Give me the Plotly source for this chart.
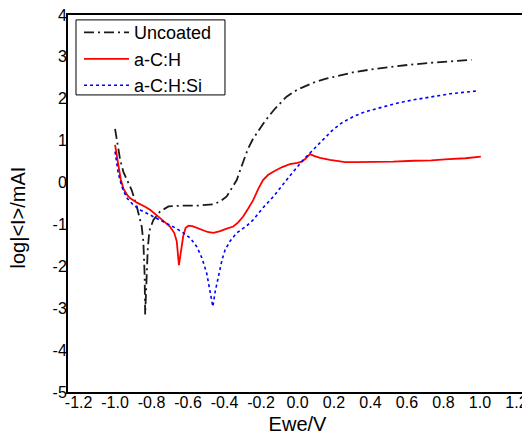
"""Polarization curves: log|I| versus potential for coated and uncoated samples."""

import plotly.graph_objects as go

uncoated_x = [-1.0, -0.985, -0.972, -0.954, -0.936, -0.909, -0.881, -0.854, -0.845, -0.838, -0.835,
              -0.828, -0.821, -0.812, -0.790, -0.753, -0.707, -0.629, -0.545, -0.461, -0.424, -0.388,
              -0.362, -0.333, -0.304, -0.272, -0.243, -0.210, -0.178, -0.126, -0.060, 0.0, 0.052, 0.096,
              0.157, 0.210, 0.314, 0.419, 0.524, 0.608, 0.734, 0.838, 0.954]
uncoated_y = [1.28, 0.85, 0.54, 0.25, 0.06, -0.18, -0.57, -1.05, -1.4, -2.2, -3.15,
              -2.3, -1.6, -1.15, -0.89, -0.69, -0.57, -0.55, -0.55, -0.52, -0.45, -0.33,
              -0.15, 0.06, 0.42, 0.8, 1.05, 1.28, 1.47, 1.75, 2.05, 2.22, 2.32, 2.40,
              2.48, 2.54, 2.64, 2.71, 2.77, 2.81, 2.86, 2.89, 2.93]

ach_x = [-1.0, -0.990, -0.980, -0.969, -0.954, -0.933, -0.918, -0.880, -0.838, -0.808, -0.753,
         -0.699, -0.676, -0.662, -0.650, -0.639, -0.626, -0.613, -0.597, -0.576, -0.534, -0.493,
         -0.461, -0.424, -0.388, -0.352, -0.325, -0.298, -0.270, -0.243, -0.215, -0.189, -0.162,
         -0.133, -0.084, -0.042, 0.0, 0.023, 0.042, 0.058, 0.068, 0.094, 0.124, 0.178, 0.262, 0.314,
         0.419, 0.524, 0.639, 0.734, 0.828, 0.922, 1.005]
ach_y = [0.90, 0.6, 0.3, 0.08, -0.15, -0.3, -0.37, -0.48, -0.57, -0.65, -0.85,
         -1.05, -1.2, -1.4, -1.97, -1.6, -1.27, -1.08, -1.03, -1.04, -1.12, -1.18,
         -1.20, -1.16, -1.1, -1.05, -0.95, -0.81, -0.62, -0.42, -0.15, 0.06, 0.18,
         0.26, 0.37, 0.44, 0.47, 0.50, 0.56, 0.64, 0.68, 0.63, 0.59, 0.54, 0.49, 0.49,
         0.49, 0.50, 0.52, 0.53, 0.56, 0.58, 0.62]

achsi_x = [-1.0, -0.990, -0.983, -0.969, -0.956, -0.933, -0.901, -0.859, -0.808, -0.755, -0.717,
           -0.671, -0.626, -0.587, -0.552, -0.524, -0.498, -0.477, -0.464, -0.451, -0.435, -0.414,
           -0.397, -0.370, -0.333, -0.283, -0.243, -0.189, -0.133, -0.063, -0.042, 0.031, 0.084,
           0.133, 0.189, 0.241, 0.304, 0.370, 0.461, 0.551, 0.629, 0.734, 0.838, 0.990]
achsi_y = [0.74, 0.45, 0.23, 0.0, -0.18, -0.38, -0.53, -0.66, -0.77, -0.88, -0.97,
           -1.08, -1.20, -1.33, -1.53, -1.8, -2.16, -2.6, -2.96, -2.6, -2.25, -1.85,
           -1.61, -1.4, -1.2, -1.05, -0.89, -0.6, -0.34, 0.06, 0.16, 0.54, 0.78,
           1.0, 1.24, 1.42, 1.57, 1.69, 1.80, 1.90, 1.97, 2.05, 2.12, 2.19]

x_ticks = [-1.2, -1.0, -0.8, -0.6, -0.4, -0.2, 0.0, 0.2, 0.4, 0.6, 0.8, 1.0, 1.2]
x_ticktext = ["-1.2", "-1.0", "-0.8", "-0.6", "-0.4", "-0.2", "0.0", "0.2", "0.4", "0.6", "0.8", "1.0", "1.2"]
y_ticks = [-5, -4, -3, -2, -1, 0, 1, 2, 3, 4]
y_ticktext = ["-5", "-4", "-3", "-2", "-1", "0", "1", "2", "3", "4"]

FONT = "Arial, Liberation Sans, sans-serif"

fig = go.Figure()
fig.add_trace(go.Scatter(x=uncoated_x, y=uncoated_y, mode="lines", name="Uncoated",
                         line=dict(color="#1a1a1a", width=1.8, dash="10px,4px,2px,4px")))
fig.add_trace(go.Scatter(x=ach_x, y=ach_y, mode="lines", name="a-C:H",
                         line=dict(color="#ff0000", width=1.8)))
fig.add_trace(go.Scatter(x=achsi_x, y=achsi_y, mode="lines", name="a-C:H:Si",
                         line=dict(color="#0000ff", width=1.6, dash="3px,3px")))

axis_common = dict(showline=True, linecolor="black", linewidth=2, mirror=True,
                   showgrid=False, zeroline=False, ticks="", ticklabeloverflow="allow",
                   tickfont=dict(family=FONT, size=16, color="black"))

fig.update_xaxes(range=[-1.258, 1.258], tickvals=x_ticks, ticktext=x_ticktext, ticklabelstandoff=-5,
                 title=dict(text="Ewe/V", font=dict(family=FONT, size=20, color="black"), standoff=7),
                 **axis_common)
fig.update_yaxes(range=[-5, 4], tickvals=y_ticks, ticktext=y_ticktext, ticklabelstandoff=-4,
                 **axis_common)

# y title sits a little below the plot's middle in the original, so it is an annotation
fig.add_annotation(text="log|&lt;I&gt;/mAI", textangle=-90, showarrow=False,
                   xref="paper", yref="paper", x=-0.108, y=0.464, xanchor="center", yanchor="middle",
                   font=dict(family=FONT, size=20, color="black"))

# legend frame drawn as a shape so the entries can sit tighter to its top edge
fig.add_shape(type="rect", xref="paper", yref="paper", x0=0.0174, x1=0.342, y0=0.788, y1=0.987,
              line=dict(color="black", width=1), fillcolor="white", layer="below")

# the page body adds an 8px margin, so the figure is sized to fit the 530x439 window
fig.update_layout(
    width=522, height=431,
    margin=dict(l=60, r=3, t=7, b=47, autoexpand=False),
    paper_bgcolor="white", plot_bgcolor="white",
    font=dict(family=FONT, color="black"),
    showlegend=True,
    legend=dict(x=0.024, y=1.002, xanchor="left", yanchor="top",
                bgcolor="rgba(0,0,0,0)", borderwidth=0,
                font=dict(family=FONT, size=18, color="black"),
                tracegroupgap=0, itemwidth=45),
)

fig.write_html("out.html")
